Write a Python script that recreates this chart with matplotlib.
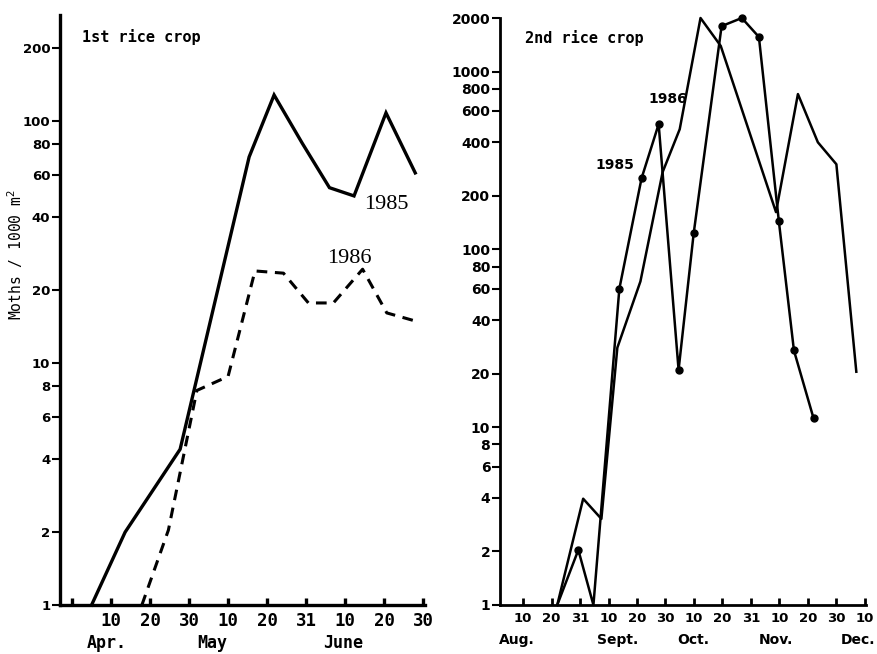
import matplotlib
matplotlib.use("Agg")
import matplotlib.pyplot as plt
import numpy as np

# x positions are in 10-day periods (0 = 1st of first month shown)
# 1st rice crop: 0 = Apr 1 ... 9 = June 30
crop1_x_1985 = [0.5, 1.36, 2.77, 4.54, 5.18, 5.9, 6.6, 7.23, 8.05, 8.8]
crop1_y_1985 = [1, 2.0, 4.4, 71, 128, 81, 53, 49, 108, 61]
crop1_x_1986 = [1.79, 2.47, 3.2, 4.0, 4.69, 5.42, 6.06, 6.7, 7.45, 8.07, 8.87]
crop1_y_1986 = [1, 2.04, 7.7, 8.8, 24, 23.5, 17.7, 17.7, 24.4, 16.1, 14.8]

# 2nd rice crop: 0 = Aug 1 ... 13 = Dec 10
crop2_x_1985 = [2.2, 2.94, 3.47, 4.38, 5.16, 5.76, 6.46, 6.99, 7.97, 8.68, 9.28, 9.98, 10.51, 11.2]
crop2_y_1985 = [1, 2.04, 1, 60, 251, 506, 21, 123, 1800, 2000, 1565, 144, 27, 11.2]
crop2_x_1986 = [2.2, 3.11, 3.75, 4.31, 5.12, 5.9, 6.5, 7.23, 7.94, 9.88, 10.65, 11.35, 12.0, 12.7]
crop2_y_1986 = [1, 3.96, 3.05, 28, 66, 272, 474, 2000, 1393, 162, 747, 400, 301, 20.5]

crop1_ticks = [0, 1, 2, 3, 4, 5, 6, 7, 8, 9]
crop1_ticklabels = ["", "10", "20", "30", "10", "20", "31", "10", "20", "30"]
crop1_months = ["Apr.", "May", "June"]
crop1_month_pos = [0.9, 3.6, 6.95]
crop1_yticks = [1, 2, 4, 6, 8, 10, 20, 40, 60, 80, 100, 200]

crop2_ticks = list(range(1, 14))
crop2_ticklabels = ["10", "20", "31", "10", "20", "30", "10", "20", "31", "10", "20", "30", "10"]
crop2_month_ends = [3, 6, 9, 12]
crop2_months = ["Aug.", "Sept.", "Oct.", "Nov.", "Dec."]
crop2_month_pos = [0.79, 4.31, 6.99, 9.88, 12.76]
crop2_yticks = [1, 2, 4, 6, 8, 10, 20, 40, 60, 80, 100, 200, 400, 600, 800, 1000, 2000]

W, H = 878, 654
fig = plt.figure(figsize=(W / 100, H / 100), dpi=100)

def setup(ax, lw):
    ax.set_yscale("log")
    for s in ("top", "right"):
        ax.spines[s].set_visible(False)
    for s in ("left", "bottom"):
        ax.spines[s].set_linewidth(lw)
    ax.yaxis.set_minor_locator(matplotlib.ticker.NullLocator())
    ax.tick_params(axis="x", direction="in", length=5, width=lw, pad=5)
    ax.tick_params(axis="y", direction="out", length=6, width=1.5, pad=1)
    ax.patch.set_alpha(0)

# ---- left panel
ax1 = fig.add_axes([60 / W, 49 / H, 365 / W, 590 / H])
setup(ax1, 2.4)
ax1.plot(crop1_x_1985, crop1_y_1985, color="black", lw=2.4, solid_joinstyle="miter", clip_on=False)
ax1.plot(crop1_x_1986, crop1_y_1986, color="black", lw=2.2, dashes=(3.5, 2.5), clip_on=False)
ax1.set_xlim(-0.31, 9.05)
ax1.set_ylim(1, 274)
ax1.set_xticks(crop1_ticks)
ax1.set_xticklabels(crop1_ticklabels, family="DejaVu Sans Mono", fontweight="bold", fontsize=12.5)
ax1.set_yticks(crop1_yticks)
ax1.set_yticklabels([str(v) for v in crop1_yticks], fontweight="bold", fontsize=9.5)
for m, p in zip(crop1_months, crop1_month_pos):
    ax1.text(p, -0.064, m, transform=ax1.get_xaxis_transform(), ha="center", va="center",
             family="DejaVu Sans Mono", fontweight="bold", fontsize=12)
ax1.text(7.5, 45, "1985", family="Liberation Serif", fontsize=16, ha="left", va="center")
ax1.text(6.55, 27, "1986", family="Liberation Serif", fontsize=16, ha="left", va="center")
fig.text(82 / W, 1 - 37 / H, "1st rice crop", family="DejaVu Sans Mono", fontweight="bold",
         fontsize=11, ha="left", va="center")
fig.text(15 / W, 1 - 255 / H, "Moths / 1000 m$^2$", family="DejaVu Sans Mono", fontsize=10.5,
         rotation=90, ha="center", va="center")

# ---- right panel
ax2 = fig.add_axes([500 / W, 49 / H, 366 / W, 587 / H])
setup(ax2, 2.0)
ax2.plot(crop2_x_1985, crop2_y_1985, color="black", lw=1.8, clip_on=False)
y85 = np.array(crop2_y_1985)
x85 = np.array(crop2_x_1985)
ax2.plot(x85[y85 > 1], y85[y85 > 1], "o", color="black", ms=5, clip_on=False)
ax2.plot(crop2_x_1986, crop2_y_1986, color="black", lw=1.8, clip_on=False)
ax2.set_xlim(0.19, 13.04)
ax2.set_ylim(1, 2000)
ax2.set_xticks(crop2_ticks)
ax2.set_xticklabels(crop2_ticklabels, fontweight="bold", fontsize=9.5)
ax2.set_xticks(crop2_month_ends, minor=True)
ax2.tick_params(axis="x", which="minor", direction="in", length=9, width=2)
ax2.set_yticks(crop2_yticks)
ax2.set_yticklabels([str(v) for v in crop2_yticks], fontweight="bold", fontsize=10)
for m, p in zip(crop2_months, crop2_month_pos):
    ax2.text(p, -0.06, m, transform=ax2.get_xaxis_transform(), ha="center", va="center",
             fontweight="bold", fontsize=10)
ax2.text(3.54, 297, "1985", fontweight="bold", fontsize=10, ha="left", va="center")
ax2.text(5.4, 700, "1986", fontweight="bold", fontsize=10, ha="left", va="center")
fig.text(525 / W, 1 - 38 / H, "2nd rice crop", family="DejaVu Sans Mono", fontweight="bold",
         fontsize=11, ha="left", va="center")

fig.savefig("out.png", dpi=100)
